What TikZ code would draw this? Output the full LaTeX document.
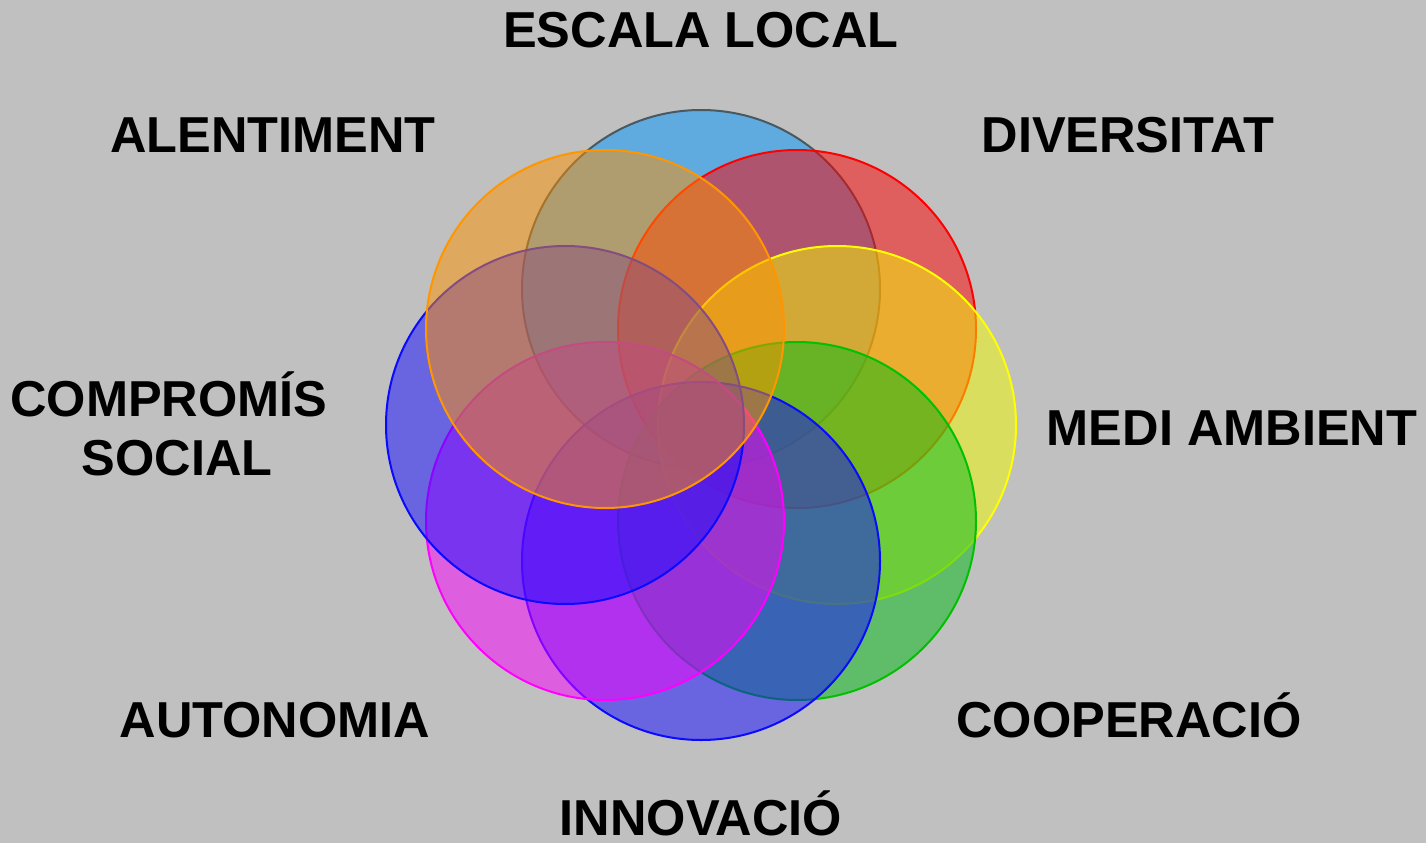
\documentclass[tikz,border=0pt]{standalone}
\usepackage{fontspec}
\setmainfont{Liberation Sans}
\definecolor{bgc}{RGB}{192,192,192}
\definecolor{cLB}{RGB}{0,150,255}
\definecolor{sLB}{RGB}{74,88,96}
\definecolor{cRed}{RGB}{255,0,0}
\definecolor{cYel}{RGB}{245,252,0}
\definecolor{sYel}{RGB}{255,255,0}
\definecolor{cGrn}{RGB}{0,188,20}
\definecolor{sGrn}{RGB}{0,192,0}
\definecolor{cBlu}{RGB}{20,10,255}
\definecolor{sBlu}{RGB}{10,10,255}
\definecolor{cMag}{RGB}{250,0,255}
\definecolor{sMag}{RGB}{255,0,255}
\definecolor{cOrg}{RGB}{255,145,0}
\definecolor{sOrg}{RGB}{255,150,0}
\begin{document}
\begin{tikzpicture}[x=1pt,y=-1pt,
  ring/.style={line width=2pt, fill opacity=0.5, draw opacity=1},
  lbl/.style={font=\fontsize{50.5}{58}\selectfont\bfseries, anchor=base, inner sep=0pt, text=black}]
\fill[bgc] (0,0) rectangle (1426,843);
\useasboundingbox (0,0) rectangle (1426,843);
% circles (ring centre (701,425), offset 136, radius 179)
\draw[ring, fill=cLB, draw=sLB]  (701,289) circle[radius=179pt];
\draw[ring, fill=cRed, draw=cRed] (797,329) circle[radius=179pt];
\draw[ring, fill=cYel, draw=sYel] (837,425) circle[radius=179pt];
\draw[ring, fill=cGrn, draw=sGrn] (797,521) circle[radius=179pt];
\draw[ring, fill=cBlu, draw=sBlu] (701,561) circle[radius=179pt];
\draw[ring, fill=cMag, draw=sMag] (605,521) circle[radius=179pt];
\draw[ring, fill=cBlu, draw=sBlu] (565,425) circle[radius=179pt];
\draw[ring, fill=cOrg, draw=sOrg] (605,329) circle[radius=179pt];
% labels
\node[lbl] (escala) at (701,48) {ESCALA LOCAL};
\node[lbl] (alent) at (273,152) {ALENTIMENT};
\node[lbl] (divers) at (1128,152) {DIVERSITAT};
\node[lbl] (comp1) at (169,416) {COMPROMÍS};
\node[lbl] (comp2) at (177,475) {SOCIAL};
\node[lbl] (medi) at (1232,445) {MEDI AMBIENT};
\node[lbl] (auton) at (275,737) {AUTONOMIA};
\node[lbl] (coop) at (1129,737) {COOPERACIÓ};
\node[lbl] (innov) at (701,835) {INNOVACIÓ};
\end{tikzpicture}
\end{document}
